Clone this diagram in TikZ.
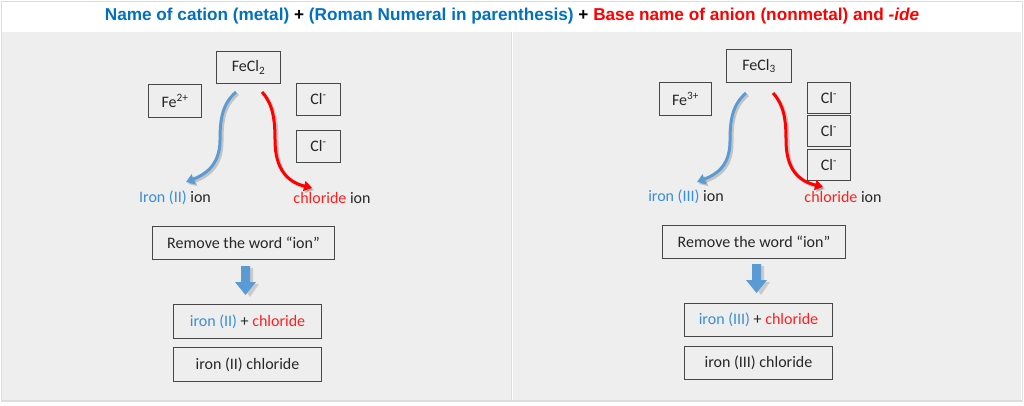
\documentclass[tikz,border=0pt]{standalone}
\usepackage{fontspec}
\setmainfont{Carlito}
\newfontfamily\titlefont{Liberation Sans}
\usetikzlibrary{arrows.meta,calc}
\definecolor{tblue}{HTML}{0070C0}
\definecolor{tred}{HTML}{FF0000}
\definecolor{lblue}{HTML}{3A8DD8}
\definecolor{ablue}{HTML}{5B9BD5}
\definecolor{bred}{HTML}{FF1F1F}
\definecolor{panel}{HTML}{EEEEEE}
\definecolor{pline}{HTML}{DDDDDD}
\definecolor{ink}{HTML}{262626}
\begin{document}
\begin{tikzpicture}[x=1pt,y=-1pt,
  box/.style={draw=ink!85,line width=1pt,inner sep=0pt,anchor=north west,font=\fontsize{16}{18}\selectfont,text=ink},
  lbl/.style={font=\fontsize{16}{18}\selectfont,text=ink},
  curvearrow/.style={line width=3pt,-{Triangle[length=8pt,width=10pt]}},
  shade/.style={line width=3pt,draw=black,opacity=0.18,-{Triangle[length=8pt,width=10pt]}},
  blockarrow/.style={fill=ablue}
]
\useasboundingbox (0,0) rectangle (1024,406);
\fill[white] (0,0) rectangle (1024,406);
\draw[pline,line width=0.8pt] (1,1) rectangle (1022,401);
\fill[panel] (2,32) rectangle (511,400);
\fill[panel] (513,32) rectangle (1021,400);
\draw[pline,line width=0.8pt] (511.5,32) -- (511.5,400);
\draw[pline,line width=0.8pt] (1,400.5) -- (1022,400.5);

% title
\node[font=\titlefont\bfseries\fontsize{17.2}{19}\selectfont] (title) at (512,16)
 {\textcolor{tblue}{Name of cation (metal)} + \textcolor{tblue}{(Roman Numeral in parenthesis)} + \textcolor{tred}{Base name of anion (nonmetal) and \textit{-ide}}};

%% LEFT
\node[box,minimum width=64pt,minimum height=32pt] (fecl2) at (216,51) {FeCl\textsubscript{2}};
\node[box,minimum width=53pt,minimum height=33pt] (fe2) at (148,84) {Fe\textsuperscript{2+}};
\node[box,minimum width=44pt,minimum height=32pt] (clA) at (296,83) {Cl\textsuperscript{-}};
\node[box,minimum width=44pt,minimum height=32pt] (clB) at (296,130) {Cl\textsuperscript{-}};
\node[lbl] (ironII) at (175,198) {\textcolor{lblue}{Iron (II)} ion};
\node[lbl] (chlL) at (332,198) {\textcolor{bred}{chloride} ion};
\coordinate (bsL) at (236,92);
\coordinate (beL) at (186,182);
\coordinate (rsL) at (262,92);
\coordinate (reL) at (312,188);
\draw[shade] ($(bsL)+(2,2)$) .. controls (224,106) and (222,120) .. (222,142) .. controls (222,168) and (206,177) .. ($(beL)+(2,2)$);
\draw[shade] ($(rsL)+(2,2)$) .. controls (275,106) and (277,122) .. (277,142) .. controls (277,172) and (290,184) .. ($(reL)+(2,2)$);
\draw[curvearrow,ablue] (bsL) .. controls (222,104) and (220,120) .. (220,140) .. controls (220,166) and (204,175) .. (beL);
\draw[curvearrow,red] (rsL) .. controls (273,104) and (275,120) .. (275,140) .. controls (275,170) and (288,182) .. (reL);
\node[box,minimum width=182pt,minimum height=33pt] (remL) at (152,226) {Remove the word “ion”};
\node[box,minimum width=148pt,minimum height=34pt] (sumL) at (173,304) {\textcolor{lblue}{iron (II)} + \textcolor{bred}{chloride}};
\node[box,minimum width=148pt,minimum height=34pt] (resL) at (173,347) {iron (II) chloride};
\fill[black,opacity=0.15] (243,268) -- (253,268) -- (253,284) -- (259,284) -- (250,297) -- (241,284) -- (247,284) -- cycle;
\fill[blockarrow] (241,266) -- (250,266) -- (250,282) -- (256,282) -- (245.5,295) -- (235,282) -- (241,282) -- cycle;

%% RIGHT
\node[box,minimum width=65pt,minimum height=33pt] (fecl3) at (726,49) {FeCl\textsubscript{3}};
\node[box,minimum width=52pt,minimum height=33pt] (fe3) at (659,82) {Fe\textsuperscript{3+}};
\node[box,minimum width=43pt,minimum height=31pt] (clC) at (807,82) {Cl\textsuperscript{-}};
\node[box,minimum width=43pt,minimum height=31pt] (clD) at (807,115) {Cl\textsuperscript{-}};
\node[box,minimum width=43pt,minimum height=31pt] (clE) at (807,149) {Cl\textsuperscript{-}};
\node[lbl] (ironIII) at (686,197) {\textcolor{lblue}{iron (III)} ion};
\node[lbl] (chlR) at (843,197) {\textcolor{bred}{chloride} ion};
\coordinate (bsR) at (746,93);
\coordinate (beR) at (697,182);
\coordinate (rsR) at (773,93);
\coordinate (reR) at (823,187);
\draw[shade] ($(bsR)+(2,2)$) .. controls (734,107) and (732,121) .. (732,143) .. controls (732,169) and (717,177) .. ($(beR)+(2,2)$);
\draw[shade] ($(rsR)+(2,2)$) .. controls (786,107) and (788,122) .. (788,142) .. controls (788,172) and (801,183) .. ($(reR)+(2,2)$);
\draw[curvearrow,ablue] (bsR) .. controls (732,105) and (730,121) .. (730,141) .. controls (730,167) and (715,175) .. (beR);
\draw[curvearrow,red] (rsR) .. controls (784,105) and (786,120) .. (786,140) .. controls (786,170) and (799,181) .. (reR);
\node[box,minimum width=183pt,minimum height=33pt] (remR) at (662,225) {Remove the word “ion”};
\node[box,minimum width=148pt,minimum height=33pt] (sumR) at (684,303) {\textcolor{lblue}{iron (III)} + \textcolor{bred}{chloride}};
\node[box,minimum width=148pt,minimum height=33pt] (resR) at (684,346) {iron (III) chloride};
\fill[black,opacity=0.15] (754,266) -- (764,266) -- (764,282) -- (770,282) -- (761,295) -- (752,282) -- (758,282) -- cycle;
\fill[blockarrow] (752,264) -- (761,264) -- (761,280) -- (767,280) -- (756.5,293) -- (746,280) -- (752,280) -- cycle;
\end{tikzpicture}
\end{document}
